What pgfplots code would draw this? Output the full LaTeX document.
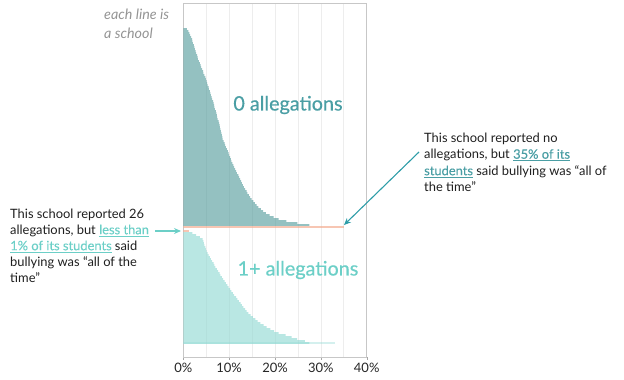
\documentclass[border=0pt]{standalone}
\usepackage{pgfplots}
\pgfplotsset{compat=1.18}
\usepackage{fontspec}
\setmainfont{Lato}
\newfontfamily\latomed[FakeBold=0.5]{Lato}
\newfontfamily\latosemi[FakeBold=0.3]{Lato}
\usetikzlibrary{arrows.meta}
\definecolor{darkbar}{HTML}{5A9FA0}
\definecolor{lightbar}{HTML}{94DAD4}
\definecolor{darktxt}{HTML}{4A9EA4}
\definecolor{lighttxt}{HTML}{6CCFC7}
\definecolor{orangebar}{HTML}{F2A88A}
\definecolor{arrowdark}{HTML}{2E9DA8}
\begin{document}
\begin{tikzpicture}
\useasboundingbox (0pt,0pt) rectangle (624pt,-380pt);
\begin{axis}[
  at={(183.3pt,-357pt)}, anchor=south west,
  scale only axis, width=183.4pt, height=354pt,
  xmin=0, xmax=40, ymin=3, ymax=357, y dir=reverse,
  axis line style={draw=black!22, line width=0.8pt},
  xtick={0,10,20,30,40}, xticklabels={0\%,10\%,20\%,30\%,40\%},
  minor xtick={5,15,25,35},
  xmajorgrids, xminorgrids,
  major grid style={draw=black!7, line width=0.6pt},
  minor grid style={draw=black!7, line width=0.6pt},
  ytick=\empty,
  xtick pos=lower, tick align=outside,
  major tick length=3pt, minor tick length=0pt,
  tick style={draw=black!35},
  xticklabel style={font=\fontsize{13}{14}\selectfont, text=black!85},
]
% 0 allegations
\addplot[xbar, bar width=1.25, bar shift=0pt, fill=darkbar, draw=none] table {
x y
0.8 29
1.1 31
1.3 33
1.5 35
1.7 37
1.9 39
2.0 41
2.1 43
2.3 45
2.4 47
2.5 49
2.7 51
2.8 53
3.0 55
3.1 57
3.2 59
3.4 61
3.6 63
3.8 65
3.9 67
4.1 69
4.3 71
4.4 73
4.6 75
4.8 77
4.9 79
5.1 81
5.2 83
5.3 85
5.5 87
5.6 89
5.8 91
5.9 93
6.0 95
6.2 97
6.3 99
6.5 101
6.6 103
6.7 105
6.8 107
6.9 109
7.1 111
7.2 113
7.3 115
7.4 117
7.5 119
7.7 121
7.8 123
7.9 125
8.0 127
8.1 129
8.2 131
8.3 133
8.4 135
8.5 137
8.6 139
8.8 141
9.0 143
9.1 145
9.3 147
9.5 149
9.7 151
9.9 153
10.0 155
10.2 157
10.4 159
10.5 161
10.7 163
10.9 165
11.1 167
11.3 169
11.5 171
11.7 173
12.0 175
12.2 177
12.4 179
12.6 181
12.8 183
13.0 185
13.2 187
13.5 189
13.8 191
14.0 193
14.3 195
14.6 197
14.9 199
15.3 201
15.6 203
16.0 205
16.4 207
16.9 209
17.4 211
18.0 213
18.8 215
19.7 217
20.8 219
22.5 221
24.9 223
27.5 225
};
\addplot[xbar, bar width=1.2, bar shift=0pt, fill=orangebar, draw=none] table {
x y
35 227
1.2 231
};
% 1+ allegations
\addplot[xbar, bar width=1.4, bar shift=0pt, fill=lightbar, fill opacity=0.4, draw=none] table {
x y
33.0 343
};
\addplot[xbar, bar width=1.25, bar shift=0pt, fill=lightbar, draw=none] table {
x y
2.0 233
2.8 235
3.6 237
4.2 239
4.4 241
4.5 243
4.6 245
4.8 247
4.9 249
5.1 251
5.3 253
5.5 255
5.8 257
6.0 259
6.3 261
6.6 263
6.8 265
7.0 267
7.3 269
7.6 271
7.9 273
8.1 275
8.4 277
8.7 279
9.0 281
9.3 283
9.6 285
9.9 287
10.2 289
10.5 291
10.8 293
11.1 295
11.5 297
11.8 299
12.1 301
12.5 303
12.8 305
13.1 307
13.5 309
13.8 311
14.2 313
14.7 315
15.2 317
15.7 319
16.2 321
16.8 323
17.5 325
18.2 327
19.0 329
19.8 331
20.8 333
22.3 335
23.6 337
24.8 339
26.5 341
27.5 343
};
\end{axis}
% labels
\node[anchor=north west, inner sep=0pt, align=left, text=black!42,
  font=\fontsize{14.3}{19}\selectfont\itshape] at (104pt,-9pt) {each line is\\a school};
\node[text=darktxt, font=\fontsize{19.8}{22}\latomed] at (288pt,-105pt) {0 allegations};
\node[text=lighttxt, font=\fontsize{19.8}{22}\latomed] at (298pt,-270pt) {1+ allegations};
% right annotation
\node[anchor=north west, inner sep=0pt, align=left, text=black!88,
  font=\fontsize{12.9}{16.5}\selectfont] at (424pt,-132.5pt)
  {This school reported no\\allegations, but {\latosemi\textcolor{darktxt}{\underline{35\% of its}}}\\
   {\latosemi\textcolor{darktxt}{\underline{students}}} said bullying was ``all of\\the time''};
% left annotation
\node[anchor=north west, inner sep=0pt, align=left, text=black!88,
  font=\fontsize{12.9}{16}\selectfont] at (10pt,-208.5pt)
  {This school reported 26\\allegations, but {\latosemi\textcolor{lighttxt}{\underline{less than}}}\\
   {\latosemi\textcolor{lighttxt}{\underline{1\% of its students}}} said\\bullying was ``all of the\\time''};
% arrows
\draw[arrowdark, line width=1.1pt, -{Stealth[length=7pt,width=6pt]}] (419pt,-152pt) -- (344pt,-225pt);
\draw[lighttxt, line width=1.1pt, -{Stealth[length=7pt,width=6pt]}] (155pt,-231pt) -- (181pt,-231pt);
\end{tikzpicture}
\end{document}
